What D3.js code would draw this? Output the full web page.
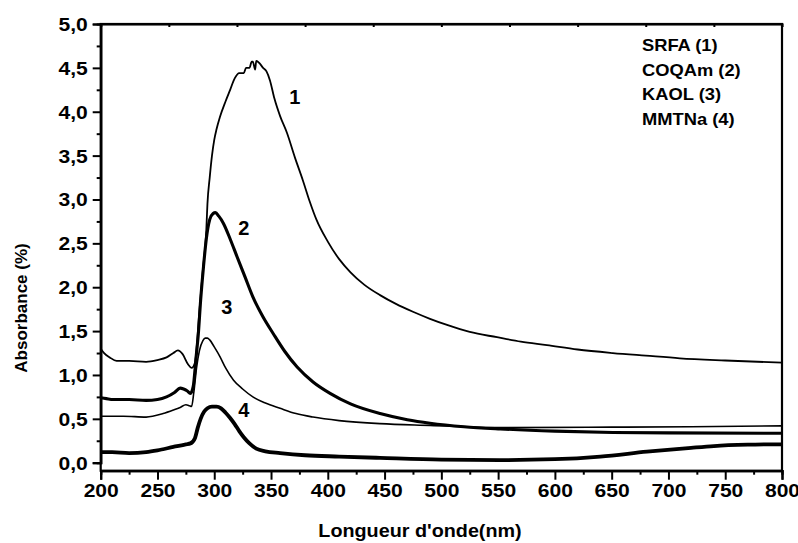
<!DOCTYPE html>
<html>
<head>
<meta charset="utf-8">
<script src="https://cdn.jsdelivr.net/npm/d3@7"></script>
<style>
  body { margin: 0; background: #fff; }
  text { font-family: "Liberation Sans", Arial, sans-serif; font-weight: bold; fill: #000; }
</style>
</head>
<body>
<script>
// spectra (wavelength in nm, absorbance)
var srfaNm  = [200, 203, 208, 214, 225, 240, 250, 258, 264, 268, 272, 277, 280, 283, 287, 290, 293, 294, 296, 298, 300, 302, 305, 310, 314, 318, 322, 326, 328, 331, 333, 334, 336, 337, 340, 343, 346, 349, 353, 358, 364, 371, 378, 384, 390, 400, 410, 420, 432, 446, 460, 475, 490, 505, 525, 549, 570, 593, 620, 651, 680, 710, 750, 800];
var srfaAbs = [1.30, 1.25, 1.20, 1.16, 1.16, 1.15, 1.17, 1.20, 1.25, 1.28, 1.24, 1.12, 1.08, 1.14, 1.74, 2.20, 2.65, 2.95, 3.25, 3.50, 3.68, 3.80, 3.94, 4.12, 4.25, 4.38, 4.44, 4.44, 4.50, 4.50, 4.57, 4.57, 4.48, 4.58, 4.55, 4.50, 4.46, 4.36, 4.15, 3.95, 3.76, 3.48, 3.22, 2.98, 2.77, 2.52, 2.32, 2.17, 2.03, 1.91, 1.81, 1.72, 1.64, 1.57, 1.49, 1.43, 1.38, 1.34, 1.29, 1.25, 1.22, 1.19, 1.165, 1.14];

var coqNm  = [200, 205, 211, 225, 240, 250, 258, 265, 270, 273, 276, 279, 281.5, 284, 286, 288, 290.5, 293, 296, 299, 301, 304, 308, 314, 320, 327, 334, 343, 352, 362, 373, 387, 402, 420, 446, 470, 490, 520, 552, 600, 651, 700, 800];
var coqAbs = [0.74, 0.73, 0.72, 0.72, 0.71, 0.72, 0.75, 0.80, 0.85, 0.84, 0.82, 0.79, 0.87, 1.20, 1.47, 1.85, 2.23, 2.55, 2.77, 2.84, 2.85, 2.81, 2.73, 2.55, 2.35, 2.12, 1.89, 1.66, 1.47, 1.27, 1.09, 0.92, 0.79, 0.67, 0.56, 0.49, 0.45, 0.41, 0.385, 0.36, 0.345, 0.34, 0.335];

var kaolNm  = [200, 220, 240, 255, 264, 270, 275, 278, 280, 282, 284.5, 287, 290, 292, 294, 296, 300, 305, 310, 317, 325, 334, 345, 358, 372, 387, 410, 446, 490, 552, 650, 720, 800];
var kaolAbs = [0.53, 0.53, 0.52, 0.56, 0.60, 0.63, 0.66, 0.65, 0.64, 0.80, 1.09, 1.28, 1.39, 1.42, 1.42, 1.40, 1.32, 1.21, 1.08, 0.94, 0.84, 0.75, 0.68, 0.62, 0.56, 0.52, 0.48, 0.445, 0.425, 0.40, 0.405, 0.41, 0.42];

var mmtNm  = [200, 210, 225, 240, 250, 264, 275, 279, 283, 285.5, 288, 291, 294, 298, 302, 306, 310, 314, 318, 322, 326, 331, 337, 345, 358, 380, 410, 446, 500, 552, 600, 640, 681, 720, 740, 770, 800];
var mmtAbs = [0.12, 0.12, 0.11, 0.12, 0.14, 0.18, 0.21, 0.22, 0.28, 0.40, 0.50, 0.58, 0.62, 0.64, 0.64, 0.62, 0.57, 0.51, 0.44, 0.36, 0.29, 0.22, 0.16, 0.13, 0.11, 0.085, 0.07, 0.055, 0.035, 0.03, 0.04, 0.07, 0.125, 0.17, 0.19, 0.205, 0.21];

var legendLabels = ["SRFA (1)", "COQAm (2)", "KAOL (3)", "MMTNa (4)"];
var curveNumbers = ["1", "2", "3", "4"];
var numberNm  = [371, 326, 311, 326];
var numberAbs = [4.17, 2.68, 1.78, 0.60];
var xTicks = [200, 250, 300, 350, 400, 450, 500, 550, 600, 650, 700, 750, 800];
var yTicks = [0, 0.5, 1, 1.5, 2, 2.5, 3, 3.5, 4, 4.5, 5];

var W = 798, H = 543;
var plotL = 100.7, plotR = 782, plotT = 24, plotB = 470.7;

var svg = d3.select("body").append("svg")
    .attr("width", W)
    .attr("height", H);

var x = d3.scaleLinear().domain([200, 800]).range([plotL, plotR]);
var y = d3.scaleLinear().domain([0, 5]).range([462.7, plotT]);

var comma = function(d) { return d3.format(".1f")(d).replace(".", ","); };

// the original lettering is a bit wider than Arial bold
function widen(sel, k) {
  sel.each(function() {
    var w = this.getComputedTextLength();
    d3.select(this).attr("textLength", w * k).attr("lengthAdjust", "spacingAndGlyphs");
  });
}

// curves
var series = [
  {nm: srfaNm, abs: srfaAbs, w: 1.8},
  {nm: coqNm, abs: coqAbs, w: 3.1},
  {nm: kaolNm, abs: kaolAbs, w: 1.6},
  {nm: mmtNm, abs: mmtAbs, w: 3.8}
];

var line = d3.line()
    .x(function(d) { return x(d[0]); })
    .y(function(d) { return y(d[1]); })
    .curve(d3.curveMonotoneX);

svg.selectAll(".curve")
    .data(series)
    .enter()
    .append("path")
    .attr("class", "curve")
    .attr("d", function(s) { return line(s.nm.map(function(v, i) { return [v, s.abs[i]]; })); })
    .attr("fill", "none")
    .attr("stroke", "#000")
    .attr("stroke-width", function(s) { return s.w; })
    .attr("stroke-linejoin", "round");

// frame
svg.append("rect")
    .attr("x", plotL)
    .attr("y", plotT)
    .attr("width", plotR - plotL)
    .attr("height", plotB - plotT)
    .attr("fill", "none")
    .attr("stroke", "#000")
    .attr("stroke-width", 2.2);

// bottom axis
var xAxis = svg.append("g")
    .attr("transform", "translate(0," + plotB + ")")
    .call(d3.axisBottom(x).tickValues(xTicks).tickSize(9).tickPadding(5).tickFormat(d3.format("d")));
svg.append("g")
    .attr("transform", "translate(0," + plotB + ")")
    .call(d3.axisBottom(x).tickValues(d3.range(225, 800, 50)).tickSize(4).tickFormat(""));

// left axis
var yAxis = svg.append("g")
    .attr("transform", "translate(" + plotL + ",0)")
    .call(d3.axisLeft(y).tickValues(yTicks).tickSize(8).tickPadding(5).tickFormat(comma));
svg.append("g")
    .attr("transform", "translate(" + plotL + ",0)")
    .call(d3.axisLeft(y).tickValues(d3.range(0.25, 5, 0.5)).tickSize(4).tickFormat(""));

// top frame ticks, ten equal divisions
var t = d3.scaleLinear().domain([0, 10]).range([plotL, plotR]);
svg.append("g")
    .attr("transform", "translate(0," + plotT + ")")
    .call(d3.axisBottom(t).tickValues(d3.range(1, 10)).tickSize(3).tickFormat(""));

svg.selectAll(".domain").attr("stroke-width", 2.2);
svg.selectAll(".tick line").attr("stroke-width", 2);
svg.selectAll(".tick text").attr("font-size", 18).attr("font-family", null);
yAxis.selectAll(".tick text").attr("dy", "0.36em");
widen(svg.selectAll(".tick text"), 1.17);

// axis titles
var xTitle = svg.append("text")
    .attr("x", 420)
    .attr("y", 537)
    .attr("text-anchor", "middle")
    .attr("font-size", 19)
    .text("Longueur d'onde(nm)");
widen(xTitle, 1.04);

var yTitle = svg.append("text")
    .attr("transform", "translate(27,308) rotate(-90)")
    .attr("text-anchor", "middle")
    .attr("font-size", 17)
    .text("Absorbance (%)");

// legend
var legend = svg.selectAll(".legend")
    .data(legendLabels)
    .enter()
    .append("text")
    .attr("class", "legend")
    .attr("x", 642)
    .attr("y", function(d, i) { return 51 + i * 24.5; })
    .attr("font-size", 16.5)
    .text(function(d) { return d; });
widen(legend, 1.11);

// curve numbers
svg.selectAll(".num")
    .data(curveNumbers)
    .enter()
    .append("text")
    .attr("class", "num")
    .attr("x", function(d, i) { return x(numberNm[i]); })
    .attr("y", function(d, i) { return y(numberAbs[i]); })
    .attr("dy", "0.36em")
    .attr("text-anchor", "middle")
    .attr("font-size", 20)
    .text(function(d) { return d; });
</script>
</body>
</html>
